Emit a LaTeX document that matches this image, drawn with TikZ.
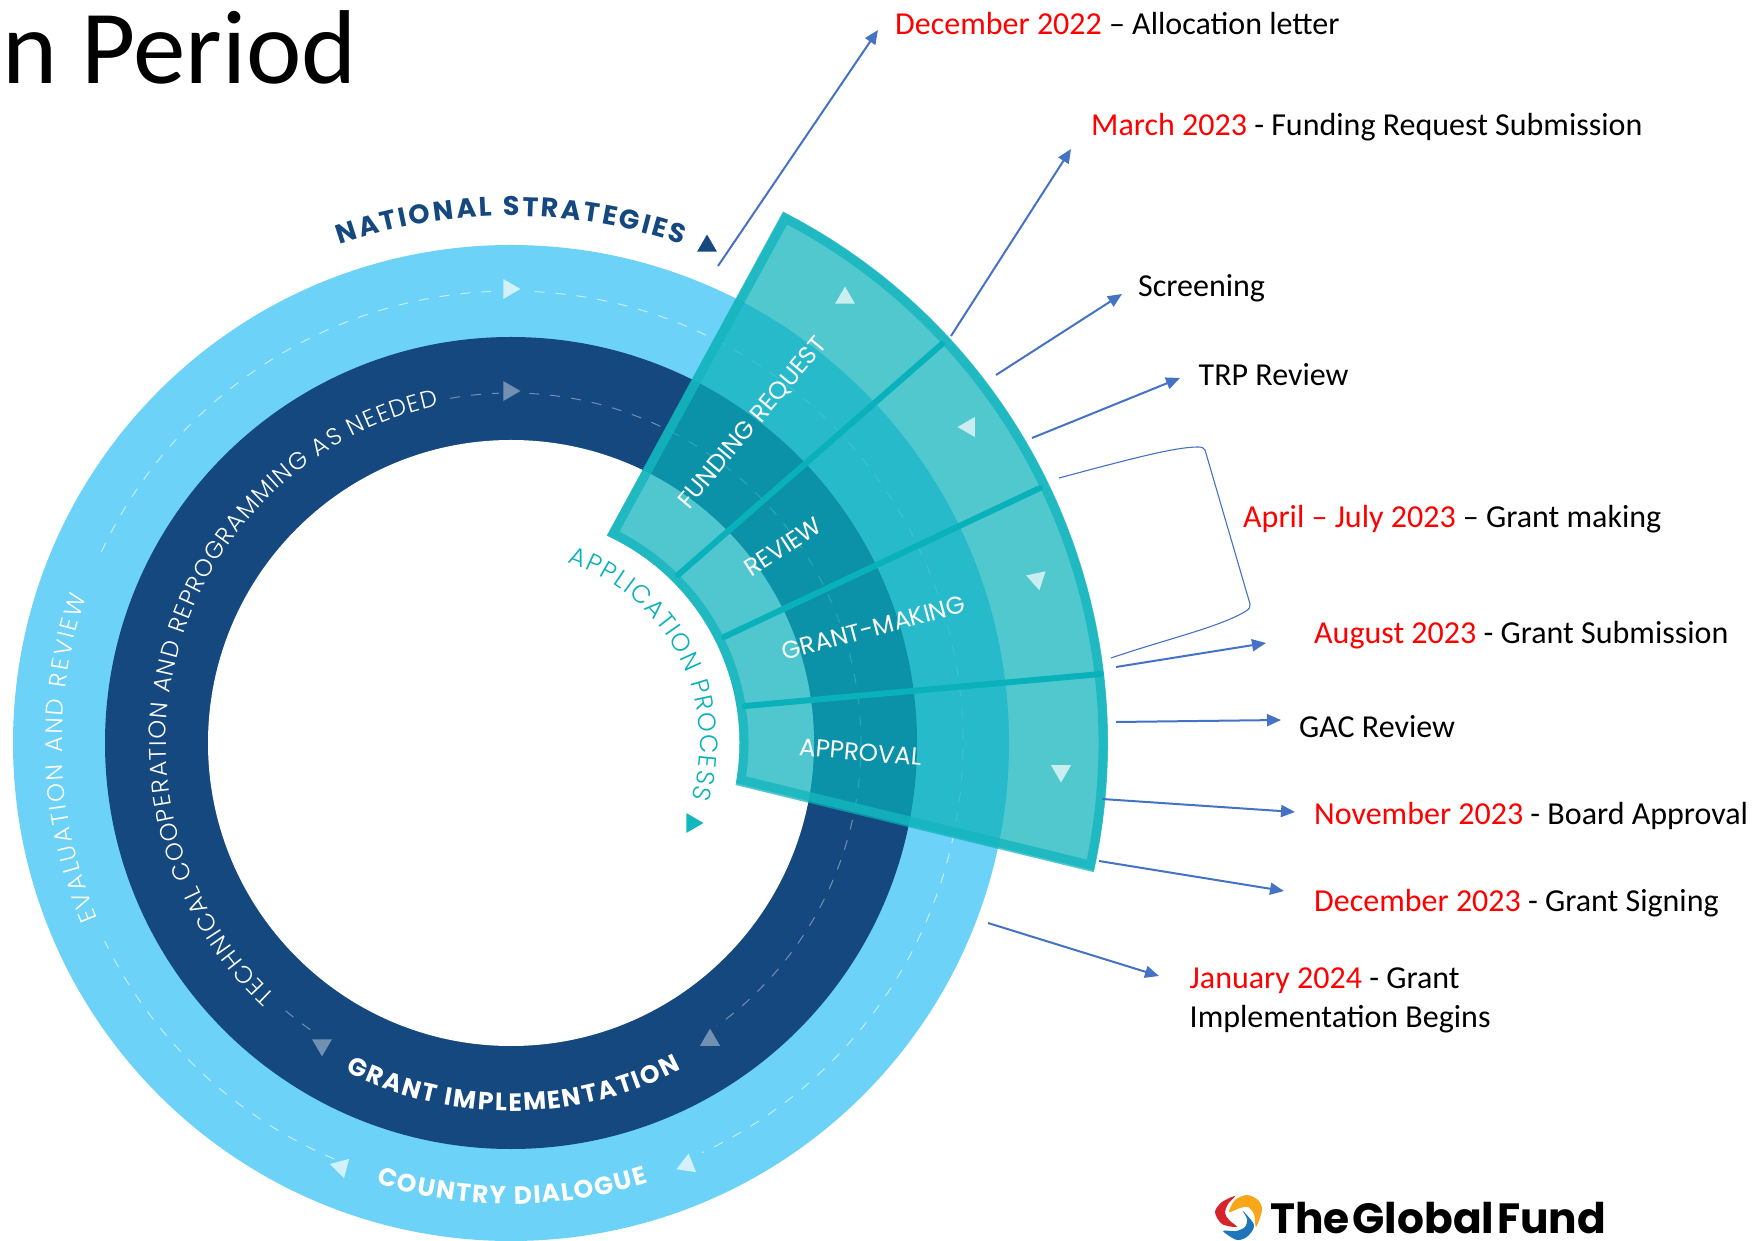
\documentclass[tikz,border=0pt]{standalone}
\usepackage{fontspec}
\setmainfont{Carlito}
\newfontfamily\ringfont{Poppins}
\newfontfamily\thinfont{Poppins}[UprightFont=* Light]
\usetikzlibrary{arrows.meta,decorations.text,shapes.geometric}
\definecolor{ringlight}{HTML}{6DD2F8}
\definecolor{ringdark}{HTML}{14487F}
\definecolor{fanteal}{HTML}{09B1BA}
\definecolor{fanedge}{HTML}{14B6BE}
\definecolor{arrowblue}{HTML}{4472C4}
\definecolor{logored}{HTML}{D8232A}
\definecolor{logoorange}{HTML}{F9A61A}
\definecolor{logoblue}{HTML}{1F75BC}
\tikzset{
	curved/.style={decorate, decoration={text along path, text align=fit to path, text={#1}}},
	dateline/.style={->, >={Triangle[length=14pt,width=12pt]}, line width=2pt, arrowblue},
	datelabel/.style={anchor=base west, inner sep=0pt, font=\fontsize{32}{39}\selectfont},
	marker/.style={regular polygon, regular polygon sides=3, minimum size=23pt, inner sep=0pt, fill=white, fill opacity=#1},
	fanlabel/.style={inner sep=0pt, white, font=\ringfont\fontsize{24.5}{30}\selectfont},
}
\newcommand{\lightlabel}{\thinfont\fontsize{24}{28}\selectfont\color{white}}
\newcommand{\boldlabel}{\ringfont\bfseries\fontsize{25}{30}\selectfont\color{white}}
\begin{document}
\begin{tikzpicture}[x=1pt,y=1pt]
	\useasboundingbox (0,0) rectangle (1755,1240);
	\coordinate (C) at (511,497);

	\node [anchor=base west, inner sep=0pt, font=\fontsize{105}{120}\selectfont] (title) at (2,1156) {n Period};

	\begin{scope}[shift={(C)}]
	% rings
	\fill [ringlight] (0,0) circle (498);
	\fill [ringdark] (0,0) circle (406);
	\fill [white] (0,0) circle (303);

	% dashed tracks
	\draw [white, opacity=0.6, line width=1pt, dash pattern=on 10pt off 11pt] (155:452) arc (155:92:452);
	\draw [white, opacity=0.6, line width=1pt, dash pattern=on 10pt off 11pt] (87:452) arc (87:-65:452);
	\draw [white, opacity=0.6, line width=1pt, dash pattern=on 10pt off 11pt] (247:452) arc (247:206:452);
	\draw [white, opacity=0.4, line width=1pt, dash pattern=on 10pt off 11pt] (100:350) arc (100:92:350);
	\draw [white, opacity=0.4, line width=1pt, dash pattern=on 10pt off 11pt] (87:350) arc (87:-54:350);
	\draw [white, opacity=0.4, line width=1pt, dash pattern=on 10pt off 11pt] (235:350) arc (235:229:350);

	% ring texts
	\path [curved={|\ringfont\bfseries\fontsize{27}{32}\selectfont\color{ringdark}|NATIONAL STRATEGIES}] (109:527) arc (109:71:527);
	\path [curved={|\lightlabel|EVALUATION AND REVIEW}] (203:449) arc (203:161:449);
	\path [curved={|\lightlabel|TECHNICAL COOPERATION AND REPROGRAMMING AS NEEDED}] (227:345) arc (227:102:345);
	\path [curved={|\boldlabel|GRANT IMPLEMENTATION}] (243.3:368) arc (243.3:297.5:368);
	\path [curved={|\boldlabel|COUNTRY DIALOGUE}] (253:461) arc (253:287.3:461);
	\path [curved={|\thinfont\fontsize{25}{30}\selectfont\color{fanteal}|APPLICATION PROCESS}] (72.5:189) arc (72.5:-17:189);

	% fan
	\fill [fanteal, fill opacity=0.71] (65.2:228.5) -- (62.9:597) arc (62.9:-12.5:597) -- (-10.6:228.5) arc (-10.6:65.2:228.5) -- cycle;
	\draw [fanedge, opacity=0.8, line width=9pt, line join=miter] (64:233) -- (62.4:592) arc (62.4:-11.9:592) -- (-9.1:233) arc (-9.1:64:233) -- cycle;
	\end{scope}

	% dividers
	\draw [fanteal, line width=6pt, line cap=round] (678,665) -- (942,896);
	\draw [fanteal, line width=6pt, line cap=round] (724,603) -- (1040,752);
	\draw [fanteal, line width=6pt, line cap=round] (745,534) -- (1101,566);

	% fan labels
	\node [fanlabel, rotate=50] (funding) at (753,817) {FUNDING REQUEST};
	\node [fanlabel, rotate=33] (review) at (783,693) {REVIEW};
	\node [fanlabel, rotate=15] (grantmaking) at (873.5,612) {GRANT-MAKING};
	\node [fanlabel, rotate=-5] (approval) at (860.5,488) {APPROVAL};

	% markers
	\node [marker=0.7, rotate=-90] (mtop) at (509,951) {};
	\node [marker=0.7, rotate=-8] (mright) at (687,75) {};
	\node [marker=0.7, rotate=195] (mleft) at (341,73) {};
	\node [marker=0.4, rotate=-90] (dtop) at (509,849) {};
	\node [marker=0.4] (dright) at (710,200) {};
	\node [marker=0.4, rotate=180] (dleft) at (322,195) {};
	\node [marker=0.7] (f1) at (845,942) {};
	\node [marker=0.7, rotate=90] (f2) at (969,813) {};
	\node [marker=0.7, rotate=192] (f3) at (1037,661) {};
	\node [marker=0.7, rotate=180] (f4) at (1061,469) {};
	\node [marker=1, fill=ringdark] (mnat) at (707,994) {};
	\node [marker=1, fill=fanedge, rotate=-90] (mapp) at (692,417) {};

	% date arrows
	\coordinate (a1) at (718,974);
	\coordinate (a2) at (878,1210);
	\coordinate (b1) at (951,904);
	\coordinate (b2) at (1071,1091);
	\coordinate (c1) at (996,865);
	\coordinate (c2) at (1122,946);
	\coordinate (d1) at (1032,802);
	\coordinate (d2) at (1180,862);
	\coordinate (e1) at (1116,573);
	\coordinate (e2) at (1266,597);
	\coordinate (f1s) at (1116,518);
	\coordinate (f2s) at (1281,520);
	\coordinate (g1) at (1102,441);
	\coordinate (g2) at (1295,428);
	\coordinate (h1) at (1099,379);
	\coordinate (h2) at (1284,349);
	\coordinate (i1) at (988,317);
	\coordinate (i2) at (1159,264);
	\draw [dateline] (a1) -- (a2);
	\draw [dateline] (b1) -- (b2);
	\draw [dateline] (c1) -- (c2);
	\draw [dateline] (d1) -- (d2);
	\draw [dateline] (e1) -- (e2);
	\draw [dateline] (f1s) -- (f2s);
	\draw [dateline] (g1) -- (g2);
	\draw [dateline] (h1) -- (h2);
	\draw [dateline] (i1) -- (i2);

	% bracket
	\draw [arrowblue, line width=1.1pt] (1059,762) .. controls (1130,781) and (1175,793) .. (1198,793) .. controls (1202,793) and (1204,792) .. (1205,790) -- (1250,636) .. controls (1251,633) and (1249,631) .. (1246,629) .. controls (1220,613) and (1170,602) .. (1111,582);

	% date labels
	\node [datelabel] (l1) at (895,1205.5) {\textcolor{red}{December 2022} -- Allocation letter};
	\node [datelabel] (l2) at (1091,1104) {\textcolor{red}{March 2023} - Funding Request Submission};
	\node [datelabel] (l3) at (1138,943) {Screening};
	\node [datelabel] (l4) at (1198.5,854) {TRP Review};
	\node [datelabel] (l5) at (1243,712) {\textcolor{red}{April -- July 2023} -- Grant making};
	\node [datelabel] (l6) at (1314,596) {\textcolor{red}{August 2023} - Grant Submission};
	\node [datelabel] (l7) at (1299,502) {GAC Review};
	\node [datelabel] (l8) at (1314,415.5) {\textcolor{red}{November 2023} - Board Approval};
	\node [datelabel] (l9) at (1314,328.5) {\textcolor{red}{December 2023} - Grant Signing};
	\node [datelabel, align=left] (l10) at (1189.5,213) {\textcolor{red}{January 2024} - Grant\\Implementation Begins};

	% logo
	\fill [logored] plot [smooth cycle] coordinates {(1235,44) (1222,38) (1215,28) (1222,16) (1237,13) (1229,20) (1225,27) (1228,36)};
	\fill [logoorange] plot [smooth cycle] coordinates {(1229,28) (1235,40) (1247,45) (1258,40) (1262,30) (1256,13) (1254,26) (1248,33) (1240,32)};
	\fill [logoblue] plot [smooth cycle] coordinates {(1243,29) (1254,15) (1248,4) (1237,0) (1223,9) (1236,9) (1245,13) (1247,21)};
	\node [anchor=base west, inner sep=0pt, font=\ringfont\bfseries\fontsize{42.3}{50}\selectfont] (logo) at (1270,7) {The\hspace{3pt}Global\hspace{3pt}Fund};
\end{tikzpicture}
\end{document}
